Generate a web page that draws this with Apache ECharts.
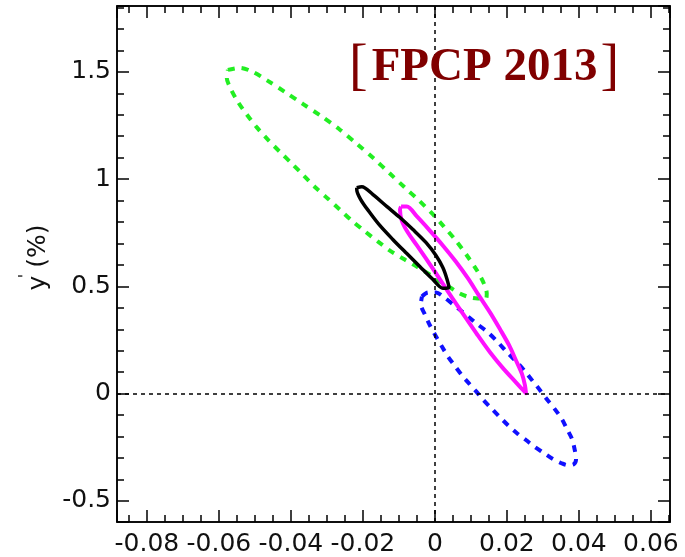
<!DOCTYPE html>
<html>
<head>
<meta charset="utf-8">
<script src="https://cdn.jsdelivr.net/npm/echarts@6/dist/echarts.min.js"></script>
<style>
  html, body { margin: 0; padding: 0; background: #fff; }
  #chart { width: 685px; height: 557px; }
</style>
</head>
<body>
<div id="chart"></div>
<script>
// axis ranges
var xRange = [-0.0883, 0.0653];
var yRange = [-0.598, 1.807];

// contour points [x, y(%)]
var greenPts = [
  [-0.0575, 1.509], [-0.0542, 1.519], [-0.0506, 1.500], [-0.0464, 1.458],
  [-0.0417, 1.407], [-0.0367, 1.351], [-0.0317, 1.295], [-0.0267, 1.235],
  [-0.0217, 1.165], [-0.0169, 1.095], [-0.0125, 1.026], [-0.0083, 0.960],
  [-0.0044, 0.900], [-0.0008, 0.840], [0.0025, 0.779], [0.0058, 0.714],
  [0.0089, 0.644], [0.0117, 0.574], [0.0136, 0.514], [0.0144, 0.467],
  [0.0142, 0.444], [0.0119, 0.444], [0.0097, 0.449], [0.0069, 0.467],
  [0.0042, 0.495], [0.0014, 0.523], [-0.0019, 0.560], [-0.0056, 0.598],
  [-0.0089, 0.630], [-0.0125, 0.667], [-0.0158, 0.709], [-0.0194, 0.756],
  [-0.0231, 0.807], [-0.0264, 0.858], [-0.0297, 0.909], [-0.0331, 0.960],
  [-0.0364, 1.016], [-0.0397, 1.072], [-0.0431, 1.128], [-0.0464, 1.184],
  [-0.0494, 1.240], [-0.0522, 1.300], [-0.0547, 1.360], [-0.0567, 1.421],
  [-0.0578, 1.472], [-0.0575, 1.509]
];
var bluePts = [
  [-0.0036, 0.453], [-0.0019, 0.472], [0.0003, 0.472], [0.0019, 0.458],
  [0.0064, 0.398], [0.0092, 0.360], [0.0119, 0.323], [0.0147, 0.286],
  [0.0175, 0.240], [0.0203, 0.188], [0.0228, 0.147], [0.0250, 0.105],
  [0.0272, 0.058], [0.0292, 0.016], [0.0311, -0.026], [0.0333, -0.072],
  [0.0353, -0.119], [0.0367, -0.165], [0.0381, -0.212], [0.0389, -0.267],
  [0.0392, -0.305], [0.0386, -0.328], [0.0369, -0.333], [0.0350, -0.323],
  [0.0328, -0.305], [0.0303, -0.277], [0.0278, -0.249], [0.0253, -0.216],
  [0.0228, -0.184], [0.0203, -0.147], [0.0178, -0.105], [0.0156, -0.067],
  [0.0133, -0.026], [0.0114, 0.012], [0.0094, 0.049], [0.0075, 0.086],
  [0.0056, 0.128], [0.0036, 0.174], [0.0019, 0.221], [0.0003, 0.267],
  [-0.0014, 0.319], [-0.0028, 0.370], [-0.0039, 0.416], [-0.0036, 0.453]
];
var magentaPts = [
  [-0.0094, 0.872], [-0.0078, 0.872], [-0.0050, 0.826], [-0.0014, 0.760],
  [0.0022, 0.691], [0.0058, 0.616], [0.0092, 0.537], [0.0122, 0.458],
  [0.0153, 0.379], [0.0181, 0.300], [0.0206, 0.226], [0.0225, 0.156],
  [0.0242, 0.091], [0.0250, 0.040], [0.0253, 0.002], [0.0225, 0.053],
  [0.0189, 0.119], [0.0153, 0.193], [0.0117, 0.277], [0.0081, 0.365],
  [0.0047, 0.449], [0.0014, 0.533], [-0.0019, 0.616], [-0.0050, 0.691],
  [-0.0075, 0.751], [-0.0092, 0.807], [-0.0097, 0.858], [-0.0094, 0.872]
];
var blackPts = [
  [-0.0217, 0.960], [-0.0203, 0.965], [-0.0172, 0.928], [-0.0133, 0.872],
  [-0.0097, 0.821], [-0.0061, 0.765], [-0.0025, 0.705], [0.0003, 0.644],
  [0.0022, 0.588], [0.0033, 0.537], [0.0039, 0.495], [0.0022, 0.491],
  [-0.0006, 0.533], [-0.0042, 0.593], [-0.0078, 0.653], [-0.0117, 0.719],
  [-0.0153, 0.784], [-0.0183, 0.849], [-0.0206, 0.905], [-0.0217, 0.951],
  [-0.0217, 0.960]
];

var labelFont = { color: '#111', fontFamily: 'DejaVu Sans', fontSize: 25 };

function makeAxis(pos, range, split, minor, showLabel, margin) {
  return {
    type: 'value',
    position: pos,
    min: range[0],
    max: range[1],
    splitNumber: split,
    axisLine: { show: true, onZero: false, lineStyle: { color: '#000', width: 1.5 } },
    axisTick: { show: true, inside: true, length: 12, lineStyle: { color: '#000', width: 1.5 } },
    minorTick: { show: true, splitNumber: minor, length: 7, lineStyle: { color: '#000', width: 1.5 } },
    splitLine: { show: false },
    axisLabel: Object.assign({
      show: showLabel, showMinLabel: false, showMaxLabel: false, margin: margin
    }, labelFont)
  };
}

var xBottom = makeAxis('bottom', xRange, 8, 4, true, 10);
var xTop = makeAxis('top', xRange, 8, 4, false, 10);
var yLeft = makeAxis('left', yRange, 5, 5, true, 6);
var yRight = makeAxis('right', yRange, 5, 5, false, 6);

yLeft.name = 'y (%)';
yLeft.nameLocation = 'middle';
yLeft.nameRotate = 90;
yLeft.nameGap = 51;
yLeft.nameTextStyle = {
  fontFamily: 'DejaVu Sans', fontSize: 25, color: '#111',
  padding: [0, 0, 0, 13]
};

function contour(name, pts, color, width, dash) {
  return {
    name: name,
    type: 'line',
    data: pts,
    xAxisIndex: 0,
    yAxisIndex: 0,
    showSymbol: false,
    symbol: 'none',
    smooth: 0.3,
    lineStyle: { color: color, width: width, type: dash || 'solid', cap: 'butt', join: 'round' }
  };
}

var series = [
  contour('green', greenPts, '#22ee22', 4, [7, 7]),
  contour('blue', bluePts, '#1010ff', 4, [7, 7]),
  contour('magenta', magentaPts, '#ff10ff', 4),
  contour('black', blackPts, '#000', 3.5)
];
series[0].markLine = {
  silent: true,
  symbol: 'none',
  label: { show: false },
  lineStyle: { color: '#000', width: 1.5, type: [4, 4] },
  data: [{ xAxis: 0 }, { yAxis: 0 }]
};

var chart = echarts.init(document.getElementById('chart'));
chart.setOption({
  animation: false,
  backgroundColor: '#fff',
  title: {
    text: '{b|[}{t|FPCP 2013}{b|]}',
    left: 344,
    top: 35,
    textStyle: {
      rich: {
        b: { fontFamily: 'Liberation Serif', fontSize: 56, color: '#800000', fontWeight: 'normal' },
        t: { fontFamily: 'Liberation Serif', fontSize: 47, color: '#800000', fontWeight: 'bold', padding: [0, 3, 0, 4] }
      }
    }
  },
  grid: {
    left: 117, right: 15, top: 6, bottom: 34,
    show: true, borderColor: '#000', borderWidth: 1.5
  },
  xAxis: [xBottom, xTop],
  yAxis: [yLeft, yRight],
  graphic: [{
    // prime of y'
    type: 'text',
    x: 26,
    y: 276,
    rotation: Math.PI / 2,
    style: {
      text: "'",
      font: '16px "DejaVu Sans"',
      fill: '#111',
      align: 'center',
      verticalAlign: 'middle'
    }
  }],
  series: series
});
</script>
</body>
</html>
